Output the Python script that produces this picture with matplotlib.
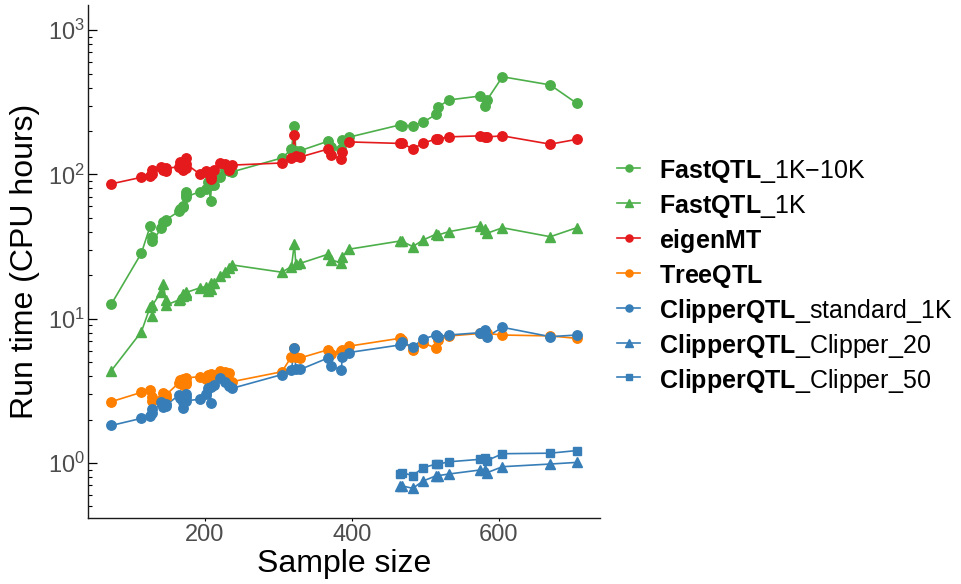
import matplotlib
matplotlib.use("Agg")
import matplotlib.pyplot as plt
from matplotlib.lines import Line2D
from matplotlib.ticker import FixedLocator, NullFormatter
import numpy as np

plt.rcParams["font.family"] = ["Liberation Sans", "DejaVu Sans"]
plt.rcParams["mathtext.fontset"] = "custom"
plt.rcParams["mathtext.rm"] = "Liberation Sans"
plt.rcParams["mathtext.bf"] = "Liberation Sans:bold"
plt.rcParams["mathtext.it"] = "Liberation Sans:italic"

# Sample size of each tissue (sorted)
sample_size = [73, 114, 126, 129, 129, 141, 144, 147, 147, 165, 167, 170, 170, 174,
               175, 175, 194, 202, 205, 208, 209, 213, 221, 227, 233, 237, 305, 318,
               322, 324, 330, 368, 372, 386, 387, 396, 465, 469, 483, 497, 515, 517,
               532, 574, 581, 584, 605, 670, 706]
# Tissues on which the Clipper variants were run
sample_size_clipper = [465, 469, 483, 497, 515, 517, 532, 574, 581, 584, 605, 670, 706]

# Run time in CPU hours
fastqtl_1k_10k = [12.6, 28.5, 44, 37, 34.5, 42.3, 47, 47.5, 48.3, 55.5, 58, 60, 59, 72,
                  76, 70, 76, 79, 88, 65.4, 84, 84, 95.5, 108, 106, 104, 130, 149,
                  218, 146, 146, 170, 154, 150, 173, 181, 220, 218, 218, 230, 261, 292,
                  328, 349, 299, 328, 475, 417, 311]
fastqtl_1k = [4.36, 8.13, 12.1, 10.5, 12.4, 15.4, 17.4, 13.5, 12.4, 13.5, 13.8, 14.8,
              14.3, 15.0, 14.6, 15.2, 16.4, 16.7, 15.6, 16.0, 17.6, 17.6, 19.8, 21.2,
              22.5, 23.6, 21.0, 23.0, 33.0, 24.0, 24.2, 28.0, 25.7, 24.2, 26.9, 30.3,
              34.5, 34.3, 31.6, 35.1, 38.6, 38.0, 40.1, 43.9, 41.6, 39.1, 42.7, 37.0, 42.7]
eigenmt = [86, 95.5, 98, 108, 100, 113, 108, 105, 110, 113, 122, 108, 116, 110, 129,
           118, 100, 106, 102, 93, 96, 108, 120, 118, 107, 116, 120, 130, 187, 134,
           132, 150, 136, 128, 142, 168, 164, 164, 150, 165, 176, 176, 182, 185, 181,
           182, 185, 162, 175]
treeqtl = [2.66, 3.09, 3.22, 2.85, 2.68, 2.73, 3.04, 2.80, 2.95, 3.6, 3.75, 3.5, 3.8,
           3.55, 3.66, 3.9, 3.96, 3.8, 4.07, 3.9, 4.14, 4.1, 4.33, 4.25, 4.2, 3.66,
           4.29, 5.45, 6.3, 5.4, 5.35, 6.1, 5.7, 6.0, 6.05, 6.45, 7.31, 7.12, 6.05,
           6.8, 6.24, 7.1, 7.59, 7.9, 7.95, 7.9, 7.71, 7.6, 7.31]
clipper_standard = [1.82, 2.04, 2.12, 2.36, 2.22, 2.66, 2.45, 2.55, 2.5, 2.96, 2.8,
                    2.65, 2.4, 2.85, 3.0, 2.7, 2.77, 3.0, 3.29, 2.59, 3.38, 3.5, 3.86,
                    3.66, 3.4, 3.29, 4.1, 4.4, 6.28, 4.5, 4.45, 5.35, 4.68, 4.43, 5.45,
                    5.83, 6.57, 6.9, 6.34, 7.25, 7.71, 7.5, 7.71, 8.0, 8.3, 7.5, 8.72,
                    7.51, 7.71]
clipper_20 = [0.693, 0.693, 0.668, 0.75, 0.817, 0.817, 0.839, 0.894, 0.894, 0.857,
              0.943, 0.984, 1.01]
clipper_50 = [0.835, 0.857, 0.817, 0.928, 0.984, 0.98, 1.02, 1.06, 1.08, 1.04, 1.16,
              1.17, 1.22]

GREEN, RED, ORANGE, BLUE = "#4DAF4A", "#E41A1C", "#FF7F00", "#377EB8"

series = [
    (r"$\mathbf{FastQTL}$_1K−10K", sample_size, fastqtl_1k_10k, GREEN, "o", 6.8),
    (r"$\mathbf{FastQTL}$_1K", sample_size, fastqtl_1k, GREEN, "^", 7.2),
    (r"$\mathbf{eigenMT}$", sample_size, eigenmt, RED, "o", 6.8),
    (r"$\mathbf{TreeQTL}$", sample_size, treeqtl, ORANGE, "o", 6.8),
    (r"$\mathbf{ClipperQTL}$_standard_1K", sample_size, clipper_standard, BLUE, "o", 6.8),
    (r"$\mathbf{ClipperQTL}$_Clipper_20", sample_size_clipper, clipper_20, BLUE, "^", 7.2),
    (r"$\mathbf{ClipperQTL}$_Clipper_50", sample_size_clipper, clipper_50, BLUE, "s", 6.2),
]

W, H = 962, 584
fig = plt.figure(figsize=(W / 100, H / 100), dpi=100)
ax = fig.add_axes([88 / W, (H - 518) / H, 512 / W, 513 / H])

# lines first, then points on top
for label, x, y, col, mk, ms in series:
    ax.plot(x, y, color=col, lw=1.2, zorder=2)
for label, x, y, col, mk, ms in series:
    ax.plot(x, y, ls="none", marker=mk, ms=ms, color=col, mec=col, zorder=3)

ax.set_yscale("log")
ax.set_ylim(10 ** -0.381, 10 ** 3.174)
ax.set_xlim(41.35, 737.65)

ax.set_xticks([200, 400, 600])
ax.set_xticklabels(["200", "400", "600"])
ax.yaxis.set_major_locator(FixedLocator([1, 10, 100, 1000]))
ax.set_yticklabels([r"$10^{0}$", r"$10^{1}$", r"$10^{2}$", r"$10^{3}$"])
minor = [m * 10.0 ** e for e in range(-1, 3) for m in range(2, 10)]
ax.yaxis.set_minor_locator(FixedLocator(minor))
ax.yaxis.set_minor_formatter(NullFormatter())

ax.tick_params(axis="y", which="major", direction="in", length=6.5, width=0.9,
               labelsize=17, labelcolor="#4D4D4D", pad=2)
ax.tick_params(axis="y", which="minor", direction="in", length=3, width=0.8)
ax.tick_params(axis="x", which="major", direction="out", length=2.5, width=0.8,
               labelsize=17, labelcolor="#4D4D4D", pad=2)

for side in ["top", "right"]:
    ax.spines[side].set_visible(False)
for side in ["left", "bottom"]:
    ax.spines[side].set_linewidth(1.0)
    ax.spines[side].set_color("#1a1a1a")

ax.set_xlabel("Sample size", fontsize=23, labelpad=2)
ax.set_ylabel("Run time (CPU hours)", fontsize=23, labelpad=6)

# legend
row0, step = 168, 34.9
for i, (label, x, y, col, mk, ms) in enumerate(series):
    yy = 1 - (row0 + i * step) / H
    fig.add_artist(Line2D([617 / W, 640 / W], [yy, yy], color=col, lw=1.2,
                          transform=fig.transFigure))
    fig.add_artist(Line2D([628.5 / W], [yy], marker=mk, ms=ms * 0.75, color=col,
                          ls="none", transform=fig.transFigure))
    fig.text(659 / W, yy, label, fontsize=18, va="center_baseline", ha="left",
             color="black")

fig.savefig("out.png", dpi=100)
